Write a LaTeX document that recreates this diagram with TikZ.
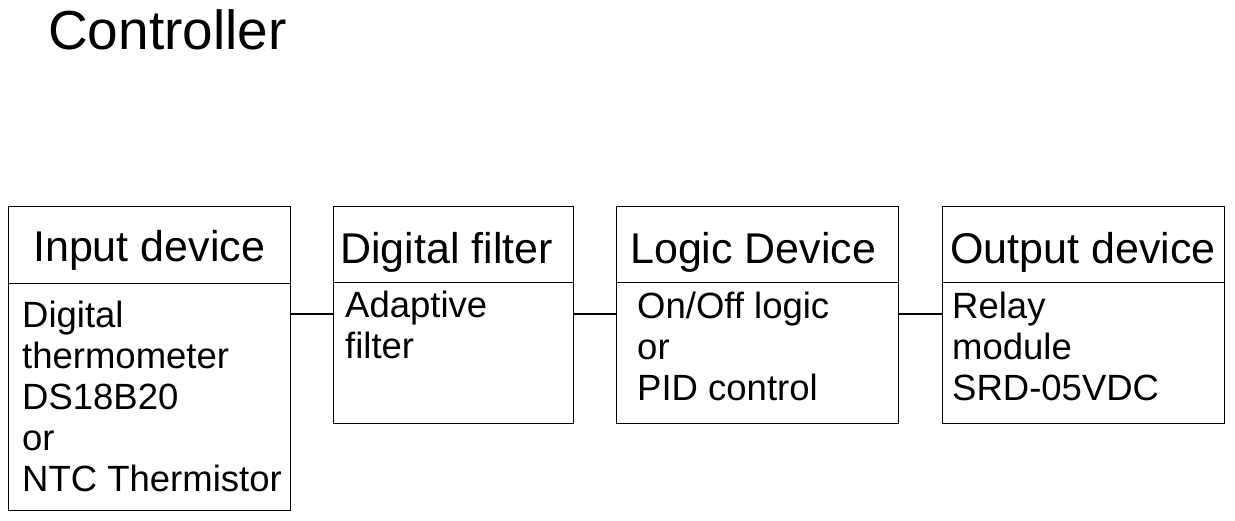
\documentclass[tikz,border=0pt]{standalone}
\usepackage{fontspec}
\setmainfont{Liberation Sans}
\begin{document}
\begin{tikzpicture}[x=1pt,y=-1pt,
  part/.style={draw=black,line width=1.2pt,rectangle,inner sep=0pt,anchor=north west},
  headtext/.style={anchor=base west,inner sep=0pt,font=\fontsize{43}{50}\selectfont},
  bodytext/.style={anchor=base west,inner sep=0pt,align=left,font=\fontsize{36.5}{41}\selectfont},
  link/.style={draw=black,line width=1.2pt}]
\useasboundingbox (0,0) rectangle (1235,521);

% title
\node[anchor=base west,inner sep=0pt,font=\fontsize{55}{60}\selectfont] (title) at (48,50) {Controller};

% block 1: input device (body text placed by its last baseline)
\node[part,minimum width=282pt,minimum height=77pt] (hd1) at (8,206) {};
\node[part,minimum width=282pt,minimum height=227pt] (bd1) at (8,283) {};
\node[headtext] (ht1) at (33,262) {Input device};
\node[bodytext] (bt1) at (22,491) {Digital\\thermometer\\DS18B20\\or\\NTC Thermistor};

% block 2: digital filter
\node[part,minimum width=240pt,minimum height=76pt] (hd2) at (333,206) {};
\node[part,minimum width=240pt,minimum height=141pt] (bd2) at (333,282) {};
\node[headtext] (ht2) at (340,264) {Digital filter};
\node[bodytext] (bt2) at (345,359) {Adaptive\\filter};

% block 3: logic device
\node[part,minimum width=282pt,minimum height=76pt] (hd3) at (616,206) {};
\node[part,minimum width=282pt,minimum height=141pt] (bd3) at (616,282) {};
\node[headtext] (ht3) at (630,264) {Logic Device};
\node[bodytext] (bt3) at (637,400) {On/Off logic\\or\\PID control};

% block 4: output device
\node[part,minimum width=282pt,minimum height=76pt] (hd4) at (942,206) {};
\node[part,minimum width=282pt,minimum height=141pt] (bd4) at (942,282) {};
\node[headtext] (ht4) at (950,264) {Output device};
\node[bodytext] (bt4) at (952,400) {Relay\\module\\SRD-05VDC};

% connectors between the blocks
\coordinate (lvl) at (0,314);
\draw[link] (bd1.east |- lvl) -- (bd2.west |- lvl);
\draw[link] (bd2.east |- lvl) -- (bd3.west |- lvl);
\draw[link] (bd3.east |- lvl) -- (bd4.west |- lvl);
\end{tikzpicture}
\end{document}
